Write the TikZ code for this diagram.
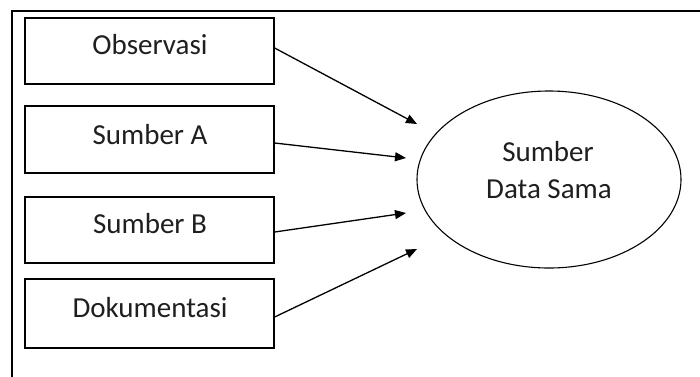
\documentclass[tikz,border=0pt]{standalone}
\usepackage{fontspec}
\setmainfont{Carlito}
\usetikzlibrary{arrows.meta,shapes.geometric}
\begin{document}
\begin{tikzpicture}[x=1pt,y=-1pt,
  box/.style={draw=black,line width=1.3pt,minimum width=249pt,inner sep=0pt},
  lbl/.style={anchor=base,inner sep=0pt,font=\fontsize{29}{34}\selectfont,text=black!88},
  arr/.style={draw=black,line width=1.3pt,-{Triangle[length=11pt,width=9pt]}}]
\useasboundingbox (0,0) rectangle (700,376);
\fill[white] (0,0) rectangle (700,376);
% outer frame (only top and left edges are inside the picture)
\draw[line width=1.3pt] (12,390) -- (12,11) -- (710,11);
% boxes
\node[box,minimum height=66pt] (obs) at (149.5,51) {};
\node[box,minimum height=67pt] (sa) at (149.5,139.5) {};
\node[box,minimum height=66pt] (sb) at (149.5,230) {};
\node[box,minimum height=69pt] (dok) at (149.5,313.5) {};
\node[lbl] (tobs) at (150,54) {Observasi};
\node[lbl] (tsa) at (150,144) {Sumber A};
\node[lbl] (tsb) at (150,233) {Sumber B};
\node[lbl] (tdok) at (150,317) {Dokumentasi};
% ellipse
\node[ellipse,draw=black,line width=1.1pt,minimum width=264pt,minimum height=177pt,inner sep=0pt] (src) at (549,179.5) {};
\node[lbl] (t1) at (548,161) {Sumber};
\node[lbl] (t2) at (549,198) {Data Sama};
% arrow ends
\coordinate (e1) at (417,124);
\coordinate (e2) at (406,158);
\coordinate (e3) at (406,213);
\coordinate (e4) at (417,249);
\draw[arr] ([yshift=3pt]obs.east) -- (e1);
\draw[arr] ([yshift=-3.5pt]sa.east) -- (e2);
\draw[arr] ([yshift=-2pt]sb.east) -- (e3);
\draw[arr] ([yshift=-3.5pt]dok.east) -- (e4);
\end{tikzpicture}
\end{document}
